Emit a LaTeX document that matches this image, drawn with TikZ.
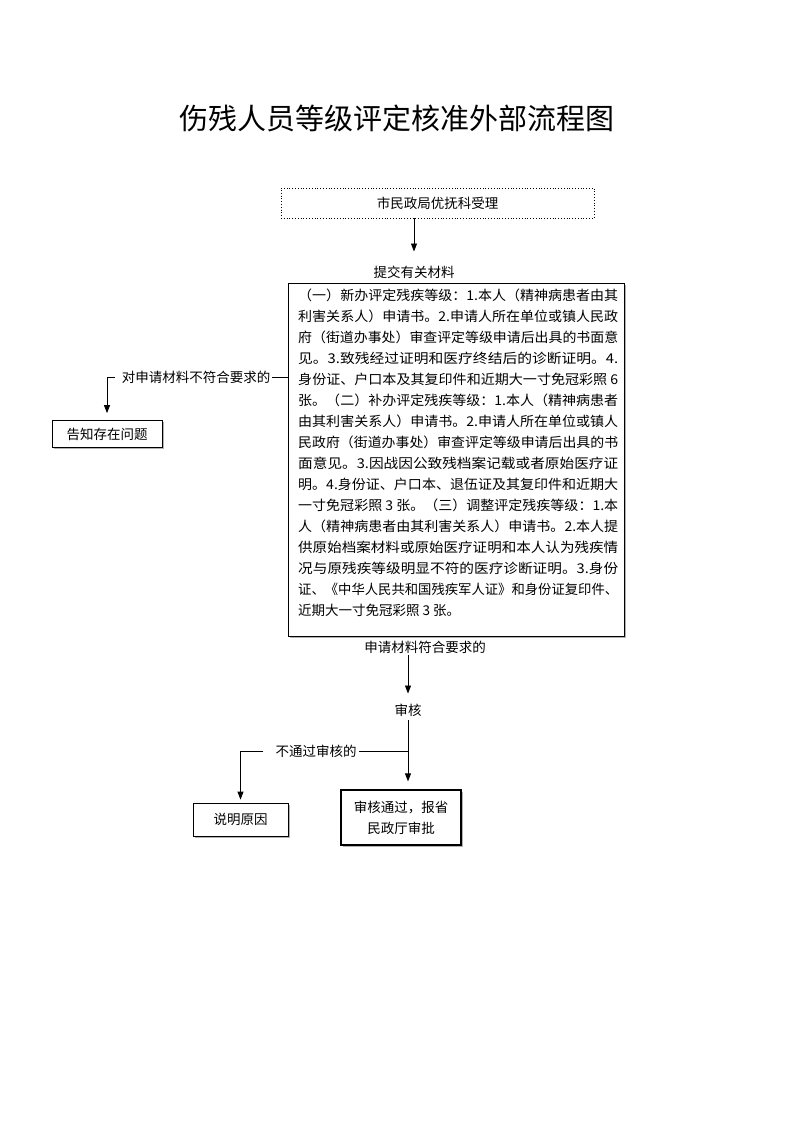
\documentclass[tikz,border=0pt]{standalone}
\usepackage{graphicx}
\usepackage{fontspec}
\newfontfamily\cjk{Noto Sans CJK SC}
\usetikzlibrary{arrows.meta,shadows}

% stretch one line of the material list to the full text width
\newcommand{\jline}[1]{\resizebox{320pt}{\height}{#1}}

\begin{document}
\begin{tikzpicture}[x=1pt, y=-1pt,
    txt/.style={font=\cjk\fontsize{13.5}{21}\selectfont, inner sep=2pt},
    box/.style={txt, draw, fill=white, line width=0.8pt,
        drop shadow={shadow xshift=1.5pt, shadow yshift=-1.5pt, fill=gray!60, opacity=1}},
    arr/.style={-{Triangle[length=8pt, width=6pt]}, line width=0.8pt},
    ln/.style={line width=0.8pt}]
    \useasboundingbox (0,0) rectangle (793,1122);

    % Title
    \node[font=\cjk\fontsize{29}{29}\selectfont] (title) at (397,118) {伤残人员等级评定核准外部流程图};

    % Acceptance and submitted materials
    \node[txt, draw, dotted, line width=0.8pt, minimum width=313pt, minimum height=30pt] (accept) at (437.5,203) {市民政局优抚科受理};
    \node[txt] (submit) at (414,272) {提交有关材料};
    \node[box, minimum width=336pt, minimum height=353pt] (materials) at (456,459.5) {};
    \node[txt, anchor=north west, align=left] (materialstext) at (296,287) {%
        \jline{（一）新办评定残疾等级：1.本人（精神病患者由其}\\
        \jline{利害关系人）申请书。2.申请人所在单位或镇人民政}\\
        \jline{府（街道办事处）审查评定等级申请后出具的书面意}\\
        \jline{见。3.致残经过证明和医疗终结后的诊断证明。4.}\\
        \jline{身份证、户口本及其复印件和近期大一寸免冠彩照 6}\\
        \jline{张。（二）补办评定残疾等级：1.本人（精神病患者}\\
        \jline{由其利害关系人）申请书。2.申请人所在单位或镇人}\\
        \jline{民政府（街道办事处）审查评定等级申请后出具的书}\\
        \jline{面意见。3.因战因公致残档案记载或者原始医疗证}\\
        \jline{明。4.身份证、户口本、退伍证及其复印件和近期大}\\
        \jline{一寸免冠彩照 3 张。（三）调整评定残疾等级：1.本}\\
        \jline{人（精神病患者由其利害关系人）申请书。2.本人提}\\
        \jline{供原始档案材料或原始医疗证明和本人认为残疾情}\\
        \jline{况与原残疾等级明显不符的医疗诊断证明。3.身份}\\
        \jline{证、《中华人民共和国残疾军人证》和身份证复印件、}\\
        近期大一寸免冠彩照 3 张。};
    \draw[arr, shorten >=12pt] (accept.south -| submit.north) -- (submit.north);

    % Materials not acceptable
    \node[txt] (reject) at (196,377) {对申请材料不符合要求的};
    \node[box, minimum width=110pt, minimum height=27pt] (tell) at (107,434) {告知存在问题};
    \draw[ln] (materials.west |- reject.east) -- (reject.east);
    \draw[arr, shorten <=5pt, shorten >=7pt] (reject.west) -| (tell.north);

    % Review
    \node[txt] (meet) at (425,647) {申请材料符合要求的};
    \node[txt] (review) at (408,710) {审核};
    \draw[arr, shorten >=8pt] (meet.south -| review.north) -- (review.north);
    \node[box, line width=1.2pt, align=center, minimum width=120pt, minimum height=55pt] (approve) at (401,817.5) {审核通过，报省\\民政厅审批};
    \draw[arr, shorten <=2pt, shorten >=8pt] (review.south) -- (review.south |- approve.north);

    % Review not passed
    \node[txt] (fail) at (316,751) {不通过审核的};
    \coordinate (split) at (review.south |- fail);
    \node[box, minimum width=95pt, minimum height=33pt] (reason) at (240.5,819.5) {说明原因};
    \draw[ln] (split) -- (fail.east);
    \draw[arr, shorten <=10pt, shorten >=3pt] (fail.west) -| (reason.north);
\end{tikzpicture}
\end{document}
